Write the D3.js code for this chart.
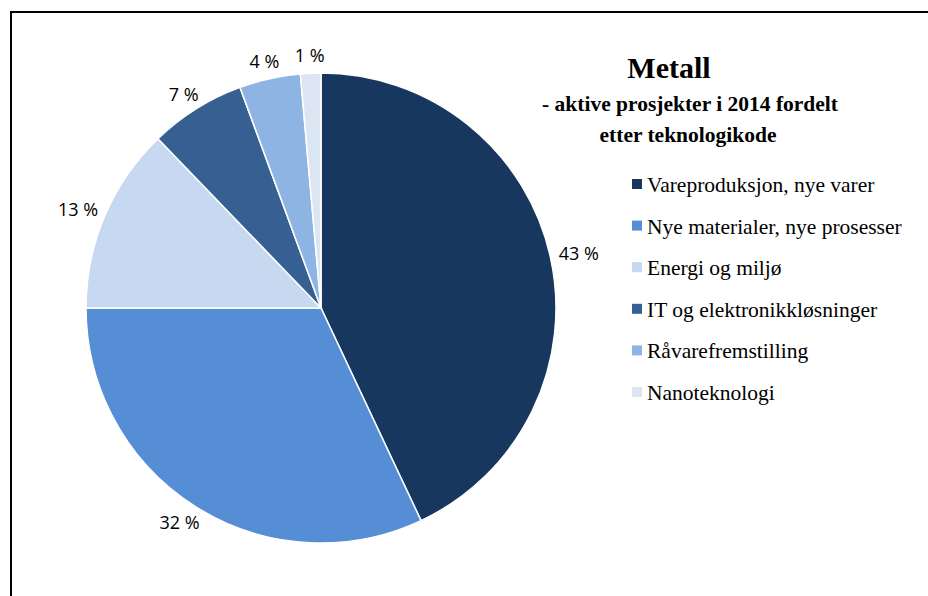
<!DOCTYPE html>
<html><head><meta charset="utf-8">
<script src="https://cdn.jsdelivr.net/npm/d3@7/dist/d3.min.js"></script>
<style>body{margin:0;background:#fff}svg{display:block}</style>
</head><body>
<svg id="c" width="928" height="596"></svg>
<script>
const categories = ["Vareproduksjon, nye varer","Nye materialer, nye prosesser","Energi og miljø","IT og elektronikkløsninger","Råvarefremstilling","Nanoteknologi"];
const values = [43.0, 32.0, 12.8, 6.6, 4.2, 1.4];
const colors = ["#17375e","#558ed5","#c6d9f1","#366092","#8eb4e3","#dce6f2"];
const titleLines = ["Metall","- aktive prosjekter i 2014 fordelt","etter teknologikode"];

const svg = d3.select("#c");
svg.append("rect").attr("x",11).attr("y",12).attr("width",940).attr("height",620)
  .attr("fill","none").attr("stroke","#000").attr("stroke-width",2);

const cx = 321, cy = 308, r = 235;
const pie = d3.pie().sort(null).value(d=>d);
const arcs = pie(values);
const arc = d3.arc().innerRadius(0).outerRadius(r);
const g = svg.append("g").attr("transform",`translate(${cx},${cy})`);
g.selectAll("path").data(arcs).join("path")
  .attr("d",arc).attr("fill",(d,i)=>colors[i])
  .attr("stroke","#fff").attr("stroke-width",1.5);

g.selectAll("text.lab").data(arcs).join("text")
  .attr("class","lab")
  .style("font-family","'Open Sans', sans-serif").style("font-size","18px")
  .attr("fill","#000").attr("text-anchor","middle").attr("dominant-baseline","central")
  .text(d=>Math.round(d.data)+" %")
  .each(function(d){
    const a = (d.startAngle+d.endAngle)/2;
    const s = Math.sin(a), c = -Math.cos(a);
    const px = (r+9)*s, py = (r+9)*c;
    const w = this.getComputedTextLength(), h = 18;
    d3.select(this).attr("x", px + s*w/2).attr("y", py + c*h/2);
  });

const title = svg.append("g").style("font-family","'Liberation Serif','Times New Roman',serif")
  .attr("font-weight","bold").attr("fill","#000").attr("text-anchor","middle");
title.append("text").attr("x",669).attr("y",78).style("font-size","30px").text(titleLines[0]);
title.append("text").attr("x",690).attr("y",111).style("font-size","21.5px").text(titleLines[1]);
title.append("text").attr("x",688).attr("y",142).style("font-size","21.5px").text(titleLines[2]);

const leg = svg.append("g").style("font-family","'Liberation Serif','Times New Roman',serif")
  .style("font-size","21.5px").attr("fill","#000");
const rowY = d3.scalePoint().domain(categories).range([184,392]);
categories.forEach((c,i)=>{
  const y = rowY(c);
  leg.append("rect").attr("x",632).attr("y",y-5).attr("width",10).attr("height",10).attr("fill",colors[i]);
  leg.append("text").attr("x",647).attr("y",y+1).attr("dominant-baseline","central").text(c);
});
</script>
</body></html>
